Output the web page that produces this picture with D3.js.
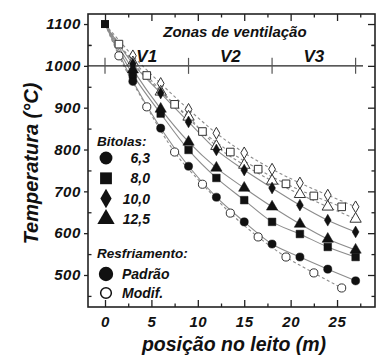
<!DOCTYPE html>
<meta charset="utf-8">
<script src="https://cdn.jsdelivr.net/npm/d3@7/dist/d3.min.js"></script>
<style>
body { margin: 0; background: #fff; }
svg text { font-family: "Liberation Sans", Arial, sans-serif; font-weight: bold; font-style: italic; fill: #111; }
.fit { fill: none; stroke: #8c8c8c; stroke-width: 1.1px; }
.fit--mod { stroke-dasharray: 3,2.5; }
</style>
<div id="chart"></div>
<script>
// positions along the bed (m)
var posA = [3, 6, 9, 12, 15, 18, 21, 24, 27],
    posB = [1.5, 4.5, 7.5, 10.5, 13.5, 16.5, 19.5, 22.5, 25.5];

var start = [0, 1100];

// Resfriamento padrão (filled)
var pad63  = [963, 851, 760, 686, 627, 574, 543, 514, 486],
    pad80  = [979, 886, 799, 732, 679, 627, 598, 567, 543],
    pad100 = [1005, 935, 866, 799, 751, 708, 667, 631, 603],
    pad125 = [991, 897, 818, 756, 708, 663, 622, 586, 560];

// Resfriamento modificado (open)
var mod63  = [1024, 902, 794, 717, 648, 591, 543, 505, 469],
    mod80  = [1052, 977, 908, 843, 794, 753, 718, 689, 663],
    mod100 = [1024, 958, 896, 839, 792, 753, 720, 691, 663],
    mod125 = [1008, 938, 878, 808, 763, 725, 693, 663, 634];

var bitolas = ["6,3", "8,0", "10,0", "12,5"];
var zones = [0, 9, 18, 27],
    zoneNames = ["V1", "V2", "V3"];
var xTicks = [0, 5, 10, 15, 20, 25],
    yTicks = [500, 600, 700, 800, 900, 1000, 1100];

var W = 376, H = 356;
var margin = {top: 14, right: 1, bottom: 49, left: 88},
    width  = W - margin.left - margin.right,
    height = H - margin.top - margin.bottom;

var x = d3.scaleLinear().domain([-1.832, 29.09]).range([0, width]);
var y = d3.scaleLinear().domain([423.5, 1124]).range([height, 0]);

var svg = d3.select("#chart").append("svg")
    .attr("width", W).attr("height", H)
  .append("g")
    .attr("transform", "translate(" + margin.left + "," + margin.top + ")");

var shapes = [d3.symbolCircle, d3.symbolSquare, d3.symbolDiamond, d3.symbolTriangle];
var markSize = [52, 58, 40, 55];

var series = [
  {b: 0, mod: false, xs: posA, v: pad63},
  {b: 1, mod: false, xs: posA, v: pad80},
  {b: 2, mod: false, xs: posA, v: pad100},
  {b: 3, mod: false, xs: posA, v: pad125},
  {b: 0, mod: true,  xs: posB, v: mod63},
  {b: 1, mod: true,  xs: posB, v: mod80},
  {b: 2, mod: true,  xs: posA, v: mod100},
  {b: 3, mod: true,  xs: posA, v: mod125}
];
series.forEach(function(s) {
  s.pts = [start].concat(s.xs.map(function(p, i) { return [p, s.v[i]]; }));
});

var line = d3.line()
    .x(function(d) { return x(d[0]); })
    .y(function(d) { return y(d[1]); })
    .curve(d3.curveMonotoneX);

// fit lines
svg.selectAll(".fit").data(series).enter().append("path")
    .attr("class", function(s) { return "fit" + (s.mod ? " fit--mod" : ""); })
    .attr("d", function(s) { return line(s.pts); });

// axes (frame + ticks)
var tickSize = 7, minorSize = 3.5;
var xMinor = xTicks.map(function(t) { return t + 2.5; }),
    yMinor = yTicks.map(function(t) { return t - 50; }).concat([1050]);

svg.append("g").attr("class", "lab").attr("transform", "translate(0," + height + ")")
    .call(d3.axisBottom(x).tickValues(xTicks).tickSize(-tickSize).tickPadding(9).tickFormat(d3.format("d")));
svg.append("g").attr("transform", "translate(0," + height + ")")
    .call(d3.axisBottom(x).tickValues(xMinor).tickSize(-minorSize));
svg.append("g").call(d3.axisTop(x).tickValues(xTicks).tickSize(-tickSize));
svg.append("g").call(d3.axisTop(x).tickValues(xMinor).tickSize(-minorSize));
svg.append("g").attr("class", "lab")
    .call(d3.axisLeft(y).tickValues(yTicks).tickSize(4).tickPadding(3).tickFormat(d3.format("d")));
svg.append("g").call(d3.axisLeft(y).tickValues(yMinor).tickSize(-minorSize));
svg.append("g").attr("transform", "translate(" + width + ",0)")
    .call(d3.axisRight(y).tickValues(yTicks).tickSize(-tickSize));
svg.append("g").attr("transform", "translate(" + width + ",0)")
    .call(d3.axisRight(y).tickValues(yMinor).tickSize(-minorSize));

svg.selectAll(".domain").remove();
svg.selectAll("g:not(.lab) > .tick text").remove();
svg.selectAll(".tick line").attr("stroke", "#222").attr("stroke-width", 1.3);
svg.selectAll(".tick text").attr("font-size", 15).style("letter-spacing", "0.6px");

svg.append("rect")
    .attr("width", width).attr("height", height)
    .attr("fill", "none").attr("stroke", "#222").attr("stroke-width", 1.6);

// ventilation zones
svg.append("line")
    .attr("x1", 0).attr("x2", x(27.8))
    .attr("y1", y(1000)).attr("y2", y(1000))
    .attr("stroke", "#222").attr("stroke-width", 1.4);
svg.selectAll(".zone").data(zones).enter().append("line")
    .attr("x1", function(d) { return x(d); }).attr("x2", function(d) { return x(d); })
    .attr("y1", y(1000) - 8).attr("y2", y(1000) + 8)
    .attr("stroke", "#555").attr("stroke-width", 1.2);
svg.selectAll(".zlab").data(zoneNames).enter().append("text")
    .attr("x", function(d, i) { return x((zones[i] + zones[i + 1]) / 2); })
    .attr("y", y(1000) - 4)
    .attr("text-anchor", "middle").attr("font-size", 17)
    .text(function(d) { return d; });
svg.append("text")
    .attr("x", x(14)).attr("y", 23)
    .attr("text-anchor", "middle").attr("font-size", 15)
    .text("Zonas de ventilação");

// markers
function drawMarks(s) {
  svg.selectAll(null).data(s.pts.slice(1)).enter().append("path")
      .attr("transform", function(d) { return "translate(" + x(d[0]) + "," + y(d[1]) + ")"; })
      .attr("d", d3.symbol().type(shapes[s.b]).size(markSize[s.b]))
      .attr("fill", s.mod ? "#fff" : "#111")
      .attr("stroke", s.mod ? "#333" : "#111")
      .attr("stroke-width", s.mod ? 1 : 0.5);
}
series.filter(function(s) { return s.mod; }).forEach(drawMarks);
series.filter(function(s) { return !s.mod; }).forEach(drawMarks);

svg.append("path")
    .attr("transform", "translate(" + x(start[0]) + "," + y(start[1]) + ")")
    .attr("d", d3.symbol().type(d3.symbolSquare).size(64))
    .attr("fill", "#111");

// legend
var lg = svg.append("g").attr("transform", "translate(" + (97 - margin.left) + ",0)");
lg.append("text").attr("x", 0).attr("y", 146 - margin.top).attr("font-size", 13.5).text("Bitolas:");
bitolas.forEach(function(b, i) {
  var cy = 158 + i * 20.3 - margin.top;
  lg.append("path")
      .attr("transform", "translate(9," + cy + ")")
      .attr("d", d3.symbol().type(shapes[i]).size([130, 140, 110, 130][i]))
      .attr("fill", "#111");
  lg.append("text").attr("x", 53).attr("y", cy + 5).attr("text-anchor", "end")
      .attr("font-size", 14).text(b);
});
lg.append("text").attr("x", 0).attr("y", 258 - margin.top).attr("font-size", 13.5).text("Resfriamento:");
["Padrão", "Modif."].forEach(function(t, i) {
  var cy = 274 + i * 19 - margin.top;
  lg.append("path")
      .attr("transform", "translate(9," + cy + ")")
      .attr("d", d3.symbol().type(d3.symbolCircle).size(i === 0 ? 130 : 90))
      .attr("fill", i === 0 ? "#111" : "#fff")
      .attr("stroke", "#111").attr("stroke-width", 1.5);
  lg.append("text").attr("x", 25).attr("y", cy + 5).attr("font-size", 14).text(t);
});

// axis titles
svg.append("text")
    .attr("transform", "translate(" + (38 - margin.left) + "," + (height / 2 + 3) + ") rotate(-90)")
    .attr("text-anchor", "middle").attr("font-size", 20)
    .text("Temperatura (°C)");
svg.append("text")
    .attr("x", 234 - margin.left).attr("y", 351 - margin.top)
    .attr("text-anchor", "middle").attr("font-size", 19.5)
    .text("posição no leito (m)");
</script>
